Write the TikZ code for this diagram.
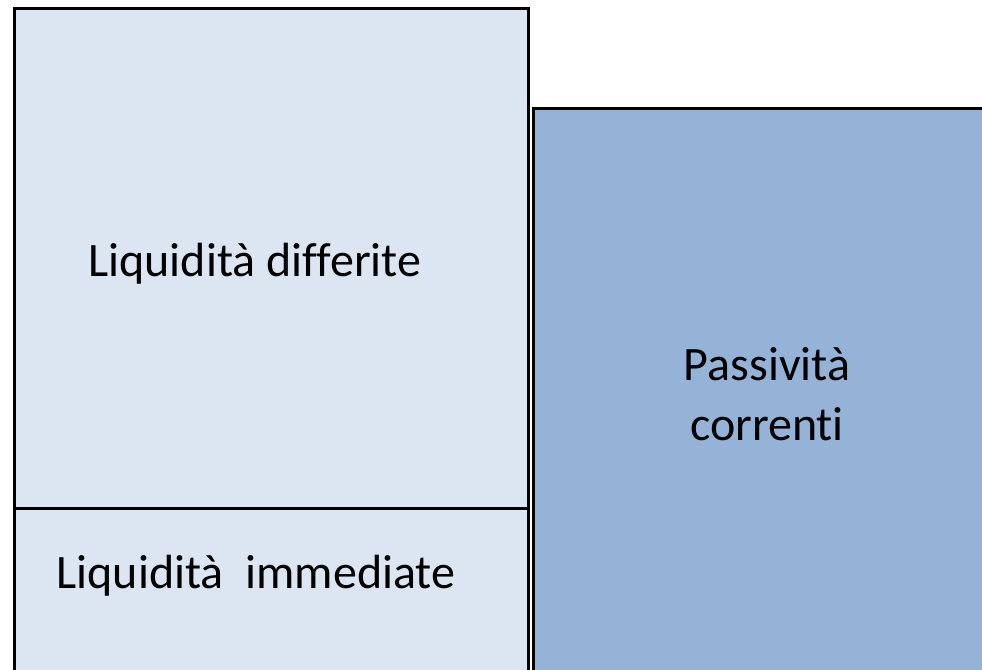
\documentclass[tikz,border=0pt]{standalone}
\usepackage{fontspec}
\setmainfont[Ligatures={NoCommon}]{Carlito}
\definecolor{lightblu}{HTML}{DCE6F2}
\definecolor{midblu}{HTML}{95B3D7}
\tikzset{box/.style={draw=black, line width=1.5pt},
  lbl/.style={font=\fontsize{24}{30}\selectfont, align=center, inner sep=0pt}}
\begin{document}
\begin{tikzpicture}[x=0.5pt, y=-0.5pt]
  \useasboundingbox (0,0) rectangle (982,670);
  \filldraw[box, fill=lightblu] (14,8) rectangle (528,700);
  \draw[box] (14,508) -- (528,508);
  \filldraw[box, fill=midblu] (533,108) rectangle (1010,700);
  % labels of the three parts
  \node[lbl] (diff) at (255,264) {Liquidità differite};
  \node[lbl] (imm) at (256,576) {Liquidità\ \ immediate};
  \node[lbl] (pass) at (767,394) {Passività\\correnti};
\end{tikzpicture}
\end{document}
